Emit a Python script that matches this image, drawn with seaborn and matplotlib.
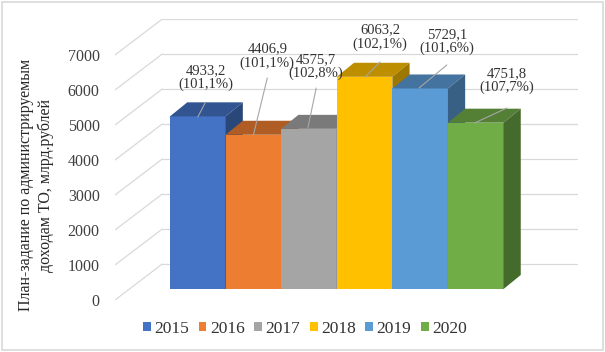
import matplotlib
matplotlib.use("Agg")
import matplotlib.pyplot as plt
import matplotlib.colors as mcolors
from matplotlib.patches import Polygon, Patch, Rectangle
import seaborn as sns
import numpy as np

# data
years = ["2015", "2016", "2017", "2018", "2019", "2020"]
values = [4933.2, 4406.9, 4575.7, 6063.2, 5729.1, 4751.8]
pct = [101.1, 101.1, 102.8, 102.1, 101.6, 107.7]
colors = ["#4472C4", "#ED7D31", "#A5A5A5", "#FFC000", "#5B9BD5", "#70AD47"]
ticks = [0, 1000, 2000, 3000, 4000, 5000, 6000, 7000]

# fake 3d geometry (data units)
front_shift = -314      # value offset of the front wall vs bar fronts
back_shift = 714        # value offset of the back wall
wall_left_front = -1.49
wall_left_back = -0.64
wall_right = 6.84
bar_dx, bar_dy = 0.31, 400

# label placement (text centre, leader start -> end) in data units
label_pos = [(0.15, 6043), (1.25, 6657), (2.13, 6357), (3.28, 7200), (4.48, 7071), (5.56, 5957)]
leader = [((0.13, 5314), (0.0, 4914)),
          ((1.25, 6029), (1.0, 4400)),
          ((2.13, 5743), (1.98, 4600)),
          ((3.28, 6486), (3.01, 6057)),
          ((4.48, 6400), (3.98, 5743)),
          ((5.56, 5171), (4.98, 4743))]

sns.set_style("white")
plt.rcParams["font.family"] = ["Liberation Serif", "DejaVu Serif"]

fig = plt.figure(figsize=(6.05, 3.52), dpi=100)
ax = fig.add_axes([115 / 605, 1 - 300 / 352, (578 - 115) / 605, (300 - 19) / 352])

sns.barplot(x=years, y=values, hue=years, palette=colors, width=1, saturation=1,
            legend=False, linewidth=0, ax=ax)

# walls / gridlines
for k in ticks:
    ax.plot([wall_left_front, wall_left_back], [k + front_shift, k + back_shift],
            color="#d9d9d9", lw=0.9, zorder=1)
    ax.plot([wall_left_back, wall_right], [k + back_shift, k + back_shift],
            color="#d9d9d9", lw=0.9, zorder=1)

# top and side faces
for i, p in enumerate(ax.patches):
    x0, w, h = p.get_x(), p.get_width(), p.get_height()
    base = 3 + 3 * i
    p.set_zorder(base)
    rgb = np.array(mcolors.to_rgb(colors[i]))
    top = Polygon([(x0, h), (x0 + w, h), (x0 + w + bar_dx, h + bar_dy), (x0 + bar_dx, h + bar_dy)],
                  closed=True, facecolor=rgb * 0.74, edgecolor="none", zorder=base + 1)
    side = Polygon([(x0 + w, 0), (x0 + w + bar_dx, bar_dy), (x0 + w + bar_dx, h + bar_dy), (x0 + w, h)],
                   closed=True, facecolor=rgb * 0.62, edgecolor="none", zorder=base + 1)
    ax.add_patch(top)
    ax.add_patch(side)

# data labels
for i in range(len(years)):
    txt = f"{values[i]:.1f}".replace(".", ",") + "\n(" + f"{pct[i]:.1f}".replace(".", ",") + "%)"
    ax.text(label_pos[i][0], label_pos[i][1], txt, ha="center", va="center",
            fontsize=10.5, color="#333333", linespacing=1.1, zorder=30)
    (sx, sy), (ex, ey) = leader[i]
    ax.plot([sx, ex], [sy, ey], color="#a6a6a6", lw=0.8, zorder=29)

ax.set_xlim(wall_left_front, wall_right)
ax.set_ylim(front_shift, 7000 + back_shift)
ax.set_xticks([])
ax.set_yticks([k + front_shift for k in ticks])
ax.set_yticklabels([str(k) for k in ticks], fontsize=11.5, color="#404040")
ax.tick_params(axis="y", length=0, pad=11)
ax.set_xlabel("")
ax.set_ylabel("")
for s in ax.spines.values():
    s.set_visible(False)

fig.text(36 / 605, 1 - 185 / 352, "План-задание по администрируемым\nдоходам ТО, млрд.рублей",
         rotation=90, ha="center", va="center", fontsize=11.5, color="#262626",
         multialignment="center", linespacing=1.2)

handles = [Patch(facecolor=c, edgecolor="none") for c in colors]
fig.legend(handles, years, loc="center", bbox_to_anchor=(305 / 605, 1 - 329 / 352), ncol=6,
           frameon=False, fontsize=12.5, handlelength=0.45, handleheight=0.45,
           handletextpad=0.2, columnspacing=0.55, labelcolor="#333333")

fig.patches.append(Rectangle((0.004, 0.006), 0.992, 0.988, transform=fig.transFigure,
                             fill=False, edgecolor="#d9d9d9", lw=1.2))

fig.savefig("out.png", dpi=100)
